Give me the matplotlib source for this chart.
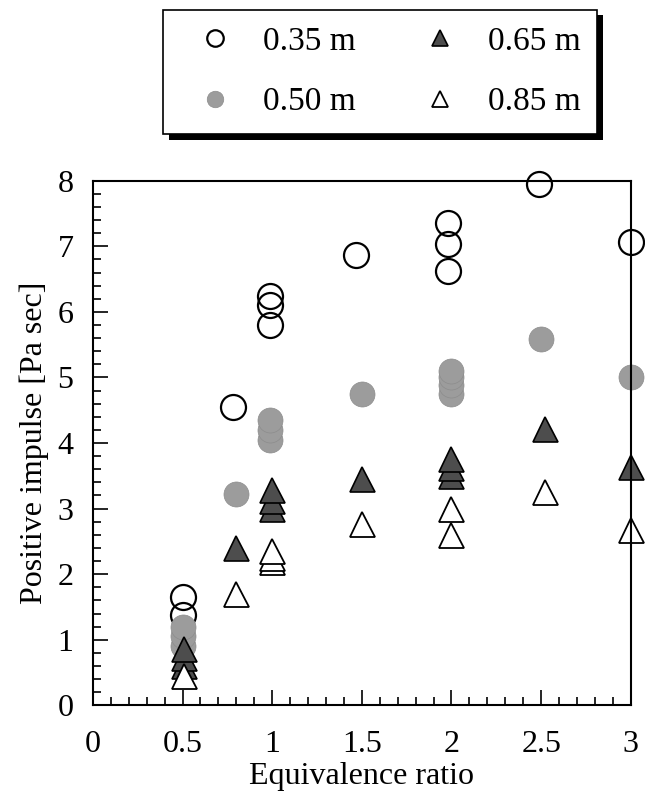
import numpy as np
import matplotlib
matplotlib.use("Agg")
import matplotlib.pyplot as plt
import matplotlib.patheffects as pe
from matplotlib.ticker import MultipleLocator

plt.rcParams['font.family'] = ['Liberation Serif', 'DejaVu Serif']

# 0.35 m (open circles)
x35 = [0.5, 0.5, 0.78, 0.99, 0.99, 0.99, 1.47, 1.98, 1.98, 1.98, 2.49, 3.0]
y35 = [1.65, 1.38, 4.55, 5.8, 6.1, 6.25, 6.87, 6.63, 7.03, 7.35, 7.95, 7.07]
# 0.50 m (gray circles)
x50 = [0.5, 0.5, 0.5, 0.8, 0.99, 0.99, 0.99, 1.5, 2.0, 2.0, 2.0, 2.0, 2.5, 3.0]
y50 = [0.9, 1.05, 1.2, 3.23, 4.05, 4.2, 4.35, 4.75, 4.75, 4.88, 5.0, 5.1, 5.58, 5.0]
# 0.65 m (filled triangles)
x65 = [0.51, 0.51, 0.51, 0.8, 1.0, 1.0, 1.0, 1.5, 2.0, 2.0, 2.0, 2.52, 3.0]
y65 = [0.6, 0.72, 0.86, 2.4, 3.0, 3.12, 3.28, 3.45, 3.5, 3.62, 3.75, 4.22, 3.64]
# 0.85 m (open triangles)
x85 = [0.51, 0.8, 1.0, 1.0, 1.0, 1.5, 2.0, 2.0, 2.52, 3.0]
y85 = [0.45, 1.7, 2.18, 2.25, 2.35, 2.77, 3.0, 2.6, 3.25, 2.67]

labels = ['0.35 m', '0.50 m', '0.65 m', '0.85 m']

fig = plt.figure(figsize=(6.45, 8.07), dpi=100)
ax = fig.add_axes([0.144, 0.126, 0.834, 0.650])

ms = 18
ax.plot(x35, y35, 'o', ms=ms, mfc='none', mec='black', mew=1.6, clip_on=False, label=labels[0])
ax.plot(x50, y50, 'o', ms=ms, mfc='#9c9c9c', mec='#8c8c8c', mew=0.5, clip_on=False, label=labels[1])
ax.plot(x65, y65, '^', ms=ms, mfc='#4d4d4d', mec='black', mew=1.2, clip_on=False, label=labels[2])
ax.plot(x85, y85, '^', ms=ms, mfc='white', mec='black', mew=1.3, clip_on=False, label=labels[3])

ax.set_xlim(0, 3)
ax.set_ylim(0, 8)
ax.xaxis.set_major_locator(MultipleLocator(0.5))
ax.xaxis.set_minor_locator(MultipleLocator(0.1))
ax.yaxis.set_major_locator(MultipleLocator(1))
ax.yaxis.set_minor_locator(MultipleLocator(0.2))
ax.set_xticks([0, 0.5, 1, 1.5, 2, 2.5, 3])
ax.set_xticklabels(['0', '0.5', '1', '1.5', '2', '2.5', '3'])
ax.tick_params(which='both', direction='in', top=False, right=False, labelsize=23, width=1.2)
ax.tick_params(which='major', length=11)
ax.tick_params(which='minor', length=5.5)
ax.tick_params(axis='x', which='major', pad=18)
ax.tick_params(axis='y', which='major', pad=14)
for s in ax.spines.values():
    s.set_linewidth(1.5)

ax.set_xlabel('Equivalence ratio', fontsize=23, labelpad=2)
ax.set_ylabel('Positive impulse [Pa sec]', fontsize=23, labelpad=6)

h, l = ax.get_legend_handles_labels()
leg = fig.legend(h, l, ncol=2, loc='upper left', mode='expand',
                 bbox_to_anchor=(0.253, 0.83, 0.673, 0.158), borderaxespad=0,
                 fontsize=24, markerscale=0.66, frameon=True, fancybox=False,
                 edgecolor='black', framealpha=1,
                 handlelength=2.1, handletextpad=0.4, columnspacing=0.8,
                 borderpad=0.5, labelspacing=0.9)
leg.get_frame().set_linewidth(1.2)
leg.get_frame().set_path_effects([
    pe.SimplePatchShadow(offset=(4, -4), shadow_rgbFace='black', alpha=1),
    pe.Normal()])

fig.savefig('out.png', dpi=100)
